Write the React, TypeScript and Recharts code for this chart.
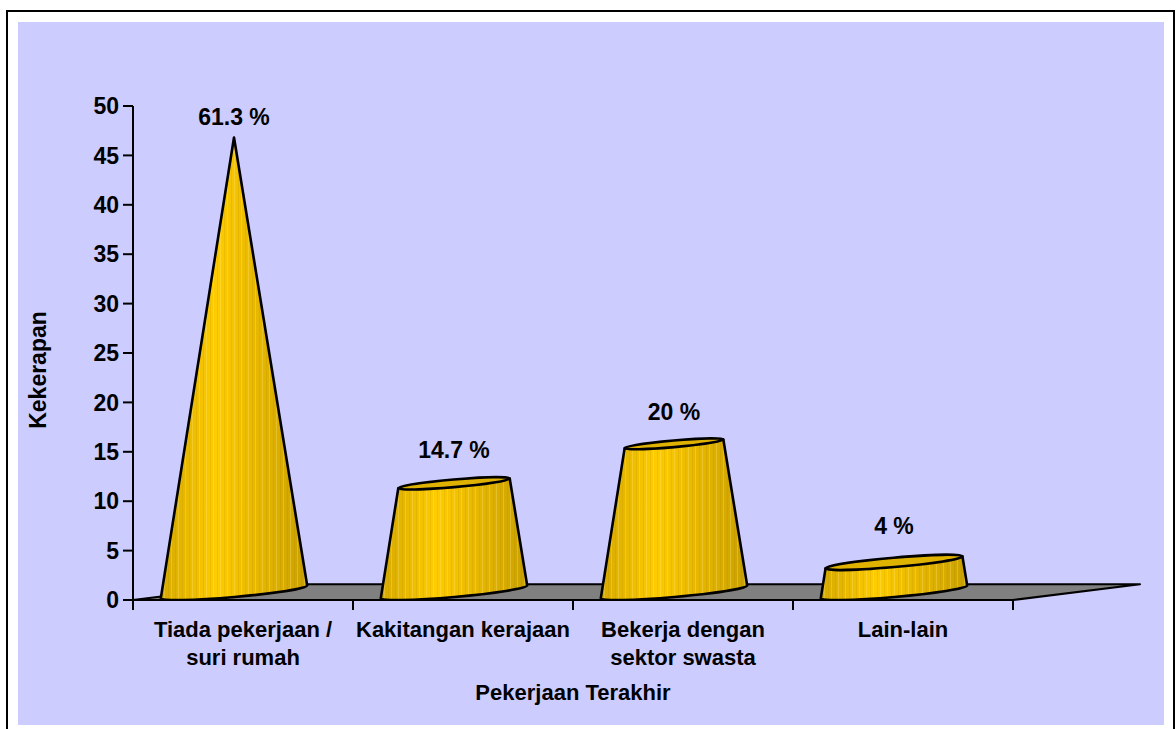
import { BarChart, Bar, XAxis, YAxis, ReferenceArea, LabelList } from "recharts";

// data (75 respondents)
const categories = [
  "Tiada pekerjaan /\nsuri rumah",
  "Kakitangan kerajaan",
  "Bekerja dengan\nsektor swasta",
  "Lain-lain",
];
const counts = [46, 11, 15, 3];
const percentLabels = ["61.3 %", "14.7 %", "20 %", "4 %"];
const yTicks = [0, 5, 10, 15, 20, 25, 30, 35, 40, 45, 50];

const data = categories.map((name, i) => ({ name, count: counts[i], pct: percentLabels[i] }));
const maxCount = Math.max(...counts);

const W = 1176;
const H = 729;
const MARGIN = { top: 106, right: 163, bottom: 0, left: 0 };
const Y_AXIS_W = 133;
const X_AXIS_H = 129;
const BAND_HALF = (W - MARGIN.right - Y_AXIS_W) / categories.length / 2;
const FONT = '"Liberation Sans", Arial, Helvetica, sans-serif';

// pseudo-3D look
const FLOOR_DEPTH = 1.6; // in axis units, gives the floor's visible thickness
const DEPTH_X = 127;
const CONE_W = 147;
const CONE_DX = -9.5;
const CONE_DY = -8;
const TILT = 5;
const BASE_RY = 5;

function Floor(props: any) {
  const { x, y, width, height } = props;
  const front = y + height;
  const pts = [
    [x, front],
    [x + width, front],
    [x + width + DEPTH_X, y],
    [x + DEPTH_X, y],
  ]
    .map((p) => p.join(","))
    .join(" ");
  return <polygon points={pts} fill="#808080" stroke="#000" strokeWidth={2} strokeLinejoin="round" />;
}

function Cone(props: any) {
  const { x, y, width, height, payload, index } = props;
  if (width == null || height == null) return null;
  const R = width / 2;
  const cx = x + R + CONE_DX;
  const by = y + height + CONE_DY;
  const ty = y + CONE_DY;
  const r = R * (1 - payload.count / maxCount);
  const rad = (TILT * Math.PI) / 180;
  const c = Math.cos(rad);
  const s = Math.sin(rad);
  const bl = [cx - R * c, by + R * s];
  const br = [cx + R * c, by - R * s];
  const tl = [cx - r * c, ty + r * s];
  const tr = [cx + r * c, ty - r * s];
  const d = `M${bl[0]},${bl[1]} L${tl[0]},${tl[1]} L${tr[0]},${tr[1]} L${br[0]},${br[1]} A${R} ${BASE_RY} ${-TILT} 0 1 ${bl[0]},${bl[1]} Z`;
  const gid = `coneGrad${index}`;
  const pid = `coneStripe${index}`;
  return (
    <g>
      <defs>
        <linearGradient id={gid} x1="0" y1="0" x2="1" y2="0">
          <stop offset="0%" stopColor="#D6A900" />
          <stop offset="38%" stopColor="#FFCC00" />
          <stop offset="65%" stopColor="#E8B800" />
          <stop offset="100%" stopColor="#C9A000" />
        </linearGradient>
        <pattern id={pid} patternUnits="userSpaceOnUse" x={cx} y={0} width={7} height={20}>
          <rect x={0} y={0} width={1} height={20} fill="#FFF2A0" opacity={0.25} />
          <rect x={4} y={0} width={1} height={20} fill="#8A6A00" opacity={0.12} />
        </pattern>
      </defs>
      <path d={d} fill={`url(#${gid})`} />
      <path d={d} fill={`url(#${pid})`} stroke="#000" strokeWidth={2.6} strokeLinejoin="round" />
      {r > 0.5 && (
        <ellipse
          cx={cx}
          cy={ty}
          rx={r}
          ry={(BASE_RY * r) / R}
          transform={`rotate(${-TILT} ${cx} ${ty})`}
          fill="#E0B200"
          stroke="#000"
          strokeWidth={2.6}
        />
      )}
    </g>
  );
}

function PctLabel(props: any) {
  const { x, y, width, value } = props;
  const row = data.find((d) => d.pct === value);
  const ratio = row ? 1 - row.count / maxCount : 0;
  return (
    <text
      x={x + width / 2 + CONE_DX}
      y={y - 29 - 16 * ratio}
      textAnchor="middle"
      dominantBaseline="central"
      fontFamily={FONT}
      fontWeight={700}
      fontSize={23}
      fill="#000"
    >
      {value}
    </text>
  );
}

function CategoryTick(props: any) {
  const { x, y, payload, index, visibleTicksCount } = props;
  const lines = String(payload.value).split("\n");
  const last = index === (visibleTicksCount ?? categories.length) - 1;
  return (
    <g>
      <line x1={x - BAND_HALF} y1={y} x2={x - BAND_HALF} y2={y + 10} stroke="#000" strokeWidth={2} />
      {last && <line x1={x + BAND_HALF} y1={y} x2={x + BAND_HALF} y2={y + 10} stroke="#000" strokeWidth={2} />}
      <text textAnchor="middle" fontFamily={FONT} fontWeight={700} fontSize={22} fill="#000">
        {lines.map((ln, i) => (
          <tspan key={i} x={x} y={y + 37 + i * 28}>
            {ln}
          </tspan>
        ))}
      </text>
    </g>
  );
}

export default function App() {
  return (
    <div style={{ position: "absolute", left: 0, top: 0, width: W, height: H, overflow: "hidden", background: "#fff" }}>
      <div
        style={{
          position: "absolute",
          left: 6,
          top: 10,
          width: 1169,
          height: 740,
          boxSizing: "border-box",
          border: "2px solid #000",
        }}
      />
      <div style={{ position: "absolute", left: 18, top: 22, width: 1146, height: 703, background: "#CCCCFF" }} />
      <div style={{ position: "absolute", left: 0, top: 0 }}>
        <BarChart width={W} height={H} data={data} margin={MARGIN}>
          <XAxis
            dataKey="name"
            height={X_AXIS_H}
            axisLine={{ stroke: "#000", strokeWidth: 2 }}
            tickLine={false}
            tickSize={0}
            tickMargin={0}
            interval={0}
            tick={<CategoryTick />}
            label={{
              value: "Pekerjaan Terakhir",
              content: (p: any) => (
                <text
                  x={p.viewBox.x + p.viewBox.width / 2}
                  y={p.viewBox.y + 100}
                  textAnchor="middle"
                  fontFamily={FONT}
                  fontWeight={700}
                  fontSize={22}
                  fill="#000"
                >
                  Pekerjaan Terakhir
                </text>
              ),
            }}
          />
          <YAxis
            width={Y_AXIS_W}
            domain={[0, 50]}
            ticks={yTicks}
            interval={0}
            allowDataOverflow
            axisLine={{ stroke: "#000", strokeWidth: 2 }}
            tickLine={{ stroke: "#000", strokeWidth: 2 }}
            tickSize={10}
            tickMargin={4}
            tick={{ fill: "#000", fontSize: 23, fontWeight: 700, fontFamily: FONT }}
            label={{
              value: "Kekerapan",
              content: (p: any) => {
                const lx = p.viewBox.x + 38;
                const ly = p.viewBox.y + p.viewBox.height / 2 + 17;
                return (
                  <text
                    x={lx}
                    y={ly}
                    transform={`rotate(-90 ${lx} ${ly})`}
                    textAnchor="middle"
                    dominantBaseline="central"
                    fontFamily={FONT}
                    fontWeight={700}
                    fontSize={23}
                    fill="#000"
                  >
                    Kekerapan
                  </text>
                );
              },
            }}
          />
          <ReferenceArea y1={0} y2={FLOOR_DEPTH} shape={<Floor />} ifOverflow="visible" />
          <Bar dataKey="count" barSize={CONE_W} shape={<Cone />} isAnimationActive={false}>
            <LabelList dataKey="pct" content={<PctLabel />} />
          </Bar>
        </BarChart>
      </div>
    </div>
  );
}
